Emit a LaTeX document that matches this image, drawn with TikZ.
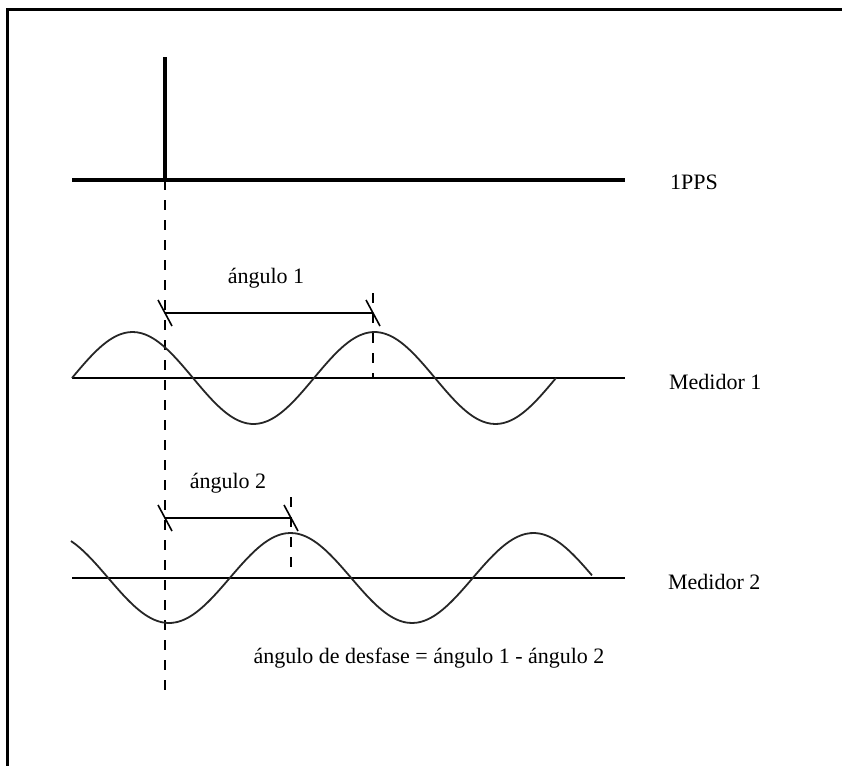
\documentclass[tikz,border=0pt]{standalone}
\usepackage{fontspec}
\setmainfont{Liberation Serif}
\begin{document}
\begin{tikzpicture}[x=0.5pt, y=-0.5pt, font=\fontsize{11}{13}\selectfont]
    \tikzset{
        axisline/.style={line width=1pt},
        wave/.style={line width=0.9pt, black!85},
        guide/.style={line width=1pt, dash pattern=on 5pt off 5pt},
        tickmark/.style={line width=0.8pt},
    }
    \useasboundingbox (0,0) rectangle (842,766);
    % Frame (only top and left visible)
    \draw[line width=1.5pt] (7,766) -- (7,9) -- (842,9);

    % 1PPS pulse
    \begin{scope}
        \coordinate (ppsStart) at (72,180);
        \coordinate (ppsEnd) at (625,180);
        \coordinate (pulseBase) at (165,180);
        \coordinate (pulseTop) at (165,57);
        \coordinate (refBottom) at (165,695);
        \draw[line width=2pt] (ppsStart) -- (ppsEnd);
        \draw[line width=2pt] (pulseBase) -- (pulseTop);
        \draw[guide] (pulseBase) -- (refBottom);
        \node[anchor=west] (ppsLabel) at (663,182) {1PPS};
    \end{scope}

    % Medidor 1
    \begin{scope}
        \coordinate (m1Start) at (72,378);
        \coordinate (m1End) at (625,378);
        \draw[axisline] (m1Start) -- (m1End);
        \draw[wave] plot[domain=72:556, samples=120, smooth] (\x, {378-46*sin((\x-72)/242*360)});
        \coordinate (a1Left) at (165,313);
        \coordinate (a1Right) at (373,313);
        \coordinate (a1Top) at (373,293);
        \coordinate (a1Foot) at (373,378);
        \draw[axisline] (a1Left) -- (a1Right);
        \draw[tickmark] (a1Left) ++(-7,-13) -- ++(14,26);
        \draw[tickmark] (a1Right) ++(-7,-13) -- ++(14,26);
        \draw[guide] (a1Top) -- (a1Foot);
        \node[anchor=base] (a1Label) at (266,283) {ángulo 1};
        \node[anchor=west] (m1Label) at (662,382) {Medidor 1};
    \end{scope}

    % Medidor 2
    \begin{scope}
        \coordinate (m2Start) at (72,578);
        \coordinate (m2End) at (625,578);
        \draw[axisline] (m2Start) -- (m2End);
        \draw[wave] plot[domain=71:592, samples=120, smooth] (\x, {578+45*cos((\x-169)/243*360)});
        \coordinate (a2Left) at (165,518);
        \coordinate (a2Right) at (291,518);
        \coordinate (a2Top) at (291,497);
        \coordinate (a2Foot) at (291,578);
        \draw[axisline] (a2Left) -- (a2Right);
        \draw[tickmark] (a2Left) ++(-7,-13) -- ++(14,26);
        \draw[tickmark] (a2Right) ++(-7,-13) -- ++(14,26);
        \draw[guide] (a2Top) -- (a2Foot);
        \node[anchor=base] (a2Label) at (228,488) {ángulo 2};
        \node[anchor=west] (m2Label) at (661,582) {Medidor 2};
    \end{scope}

    % Phase difference
    \node[anchor=base] (diffLabel) at (429,663) {ángulo de desfase = ángulo 1 - ángulo 2};
\end{tikzpicture}
\end{document}
